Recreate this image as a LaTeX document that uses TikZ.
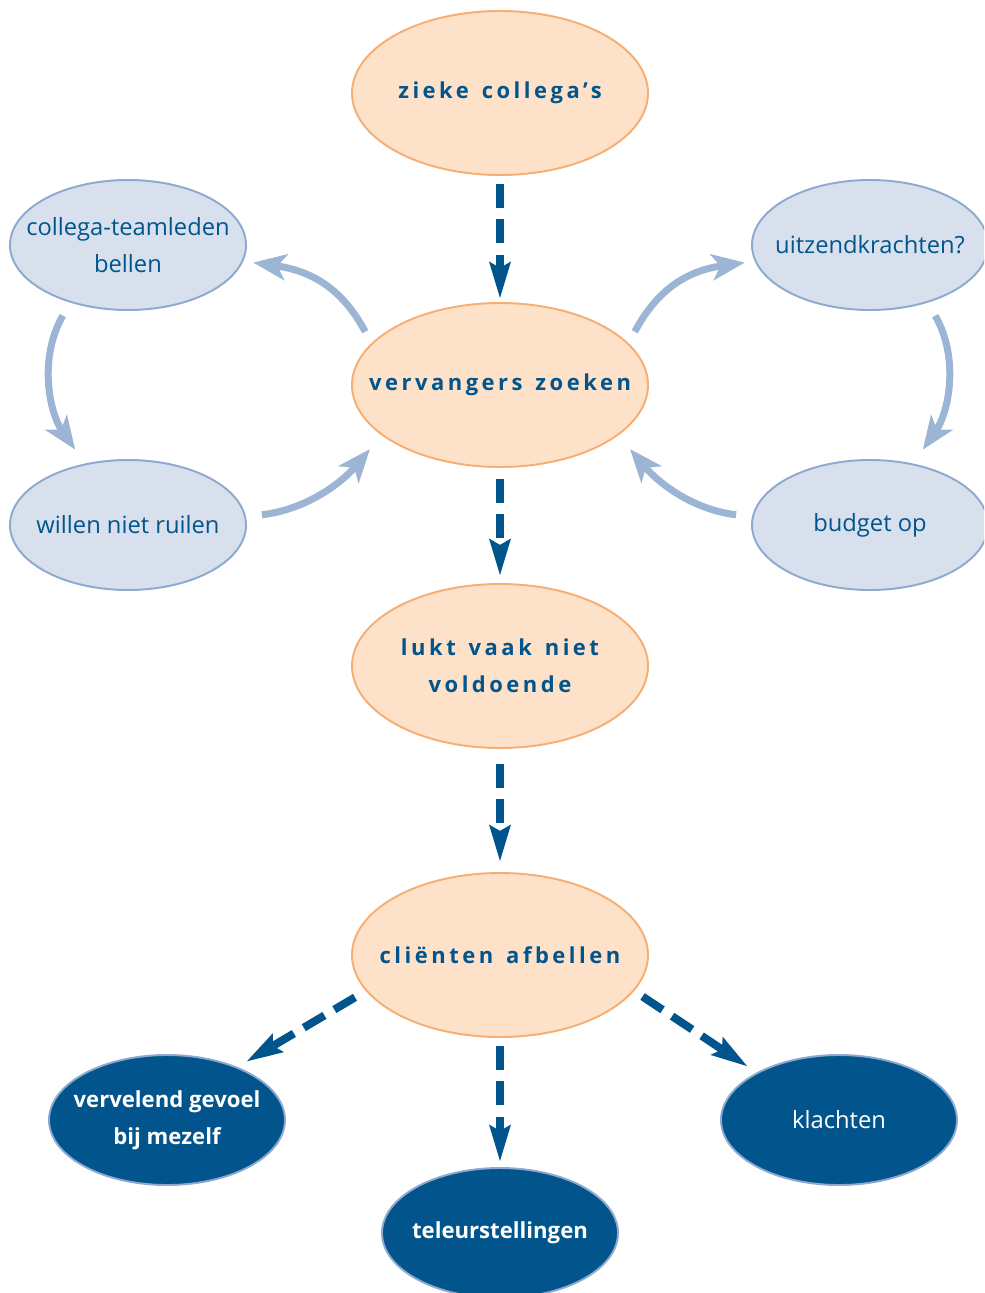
\documentclass[tikz,border=0pt]{standalone}
\usepackage{fontspec}
\setmainfont{Open Sans}
\newfontfamily\spacedfont[LetterSpace=16, WordSpace=1.4]{Open Sans}
\usepackage{xcolor}
\usetikzlibrary{shapes.geometric, arrows.meta, positioning}
\definecolor{peachfill}{HTML}{FDE1C9}
\definecolor{peachline}{HTML}{F6AE73}
\definecolor{mistfill}{HTML}{D7E0EC}
\definecolor{mistline}{HTML}{8DA9CF}
\definecolor{flowblue}{HTML}{02558C}
\definecolor{loopblue}{HTML}{9CB5D5}

\begin{document}
\begin{tikzpicture}[font=\fontsize{13.5pt}{21pt}\selectfont,
    cause/.style={ellipse, minimum width=5.92cm, minimum height=3.28cm, inner xsep=-2cm, inner ysep=0pt,
      align=center, fill=peachfill, draw=peachline, line width=1.1pt, text=flowblue,
      font=\spacedfont\bfseries\fontsize{12.5pt}{21pt}\selectfont},
    option/.style={ellipse, minimum width=4.72cm, minimum height=2.60cm, inner xsep=-2cm, inner ysep=0pt,
      align=center, fill=mistfill, draw=mistline, line width=1.1pt, text=flowblue},
    effect/.style={ellipse, minimum width=4.72cm, minimum height=2.60cm, inner xsep=-2cm, inner ysep=0pt,
      align=center, fill=flowblue, draw=mistline, line width=1.1pt, text=white,
      font=\bfseries\fontsize{12.6pt}{21pt}\selectfont},
    flowarrow/.style={draw=flowblue, line width=0.16cm, dash pattern=on 0.48cm off 0.23cm,
      -{Stealth[length=0.72cm, width=0.40cm, inset=0.10cm]}},
    loopflow/.style={draw=loopblue, line width=0.14cm,
      -{Stealth[length=0.66cm, width=0.52cm, inset=0.17cm]}}]

    \useasboundingbox (0,0) rectangle (19.68,-25.86);
    \clip (0,0) rectangle (19.68,-25.86);

    % main chain
    \node (zieke) [cause] at (10,-1.86) {zieke collega’s};
    \node (vervangers) [cause] at (10,-7.70) {vervangers zoeken};
    \node (lukt) [cause] at (10,-13.32) {lukt vaak niet\\voldoende};
    \node (clienten) [cause] at (10,-19.10) {cliënten afbellen};

    % the two loops
    \node (collega) [option] at (2.56,-4.90) {collega-teamleden\\bellen};
    \node (willen) [option] at (2.56,-10.50) {willen niet ruilen};
    \node (uitzend) [option] at (17.40,-4.90) {uitzendkrachten?};
    \node (budget) [option] at (17.40,-10.50) {budget op};

    % consequences
    \node (gevoel) [effect] at (3.34,-22.40) {vervelend gevoel\\bij mezelf};
    \node (teleur) [effect] at (10,-24.66) {teleurstellingen};
    \node (klachten) [effect, font=\fontsize{13.5pt}{21pt}\selectfont] at (16.78,-22.40) {klachten};

    \draw[flowarrow, shorten <=0.16cm, shorten >=0.06cm] (zieke.south) -- (vervangers.north);
    \draw[flowarrow, shorten <=0.22cm, shorten >=0.14cm] (vervangers.south) -- (lukt.north);
    \draw[flowarrow, shorten <=0.30cm, shorten >=0.20cm] (lukt.south) -- (clienten.north);
    \draw[flowarrow, shorten <=0.16cm, shorten >=0.10cm] (clienten.south) -- (teleur.north);
    \draw[flowarrow, shorten <=0.25cm, shorten >=0.20cm] (clienten.195) -- (gevoel.37);
    \draw[flowarrow, shorten <=0.20cm, shorten >=0.21cm] (clienten.345) -- (klachten.150);

    \draw[loopflow, shorten <=0.26cm, shorten >=0.20cm] (vervangers.162) to[out=118, in=-8, looseness=1.1] (collega.-8);
    \draw[loopflow, shorten <=0.30cm, shorten >=0.34cm] (collega.225) to[out=240, in=125] (willen.125);
    \draw[loopflow, shorten <=0.32cm, shorten >=0.36cm] (willen.4) to[out=7, in=230] (vervangers.203);
    \draw[loopflow, shorten <=0.26cm, shorten >=0.20cm] (vervangers.18) to[out=62, in=188, looseness=1.1] (uitzend.188);
    \draw[loopflow, shorten <=0.30cm, shorten >=0.34cm] (uitzend.315) to[out=300, in=55] (budget.55);
    \draw[loopflow, shorten <=0.32cm, shorten >=0.36cm] (budget.176) to[out=173, in=-50] (vervangers.337);
\end{tikzpicture}
\end{document}
